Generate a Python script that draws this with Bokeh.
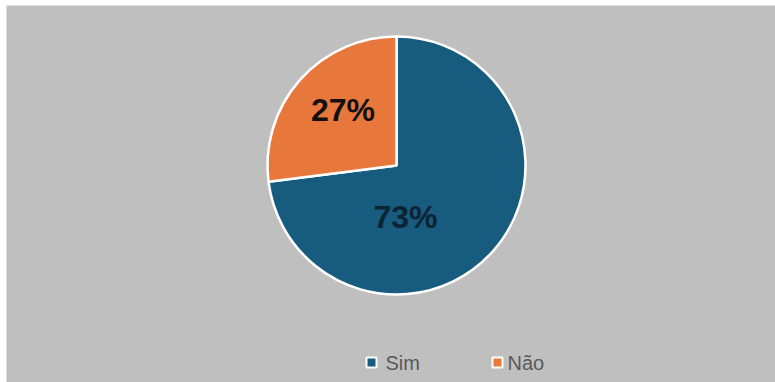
from bokeh.plotting import figure
from bokeh.models import Range1d, ColumnDataSource
from bokeh.core.properties import value
from bokeh.embed import file_html
from bokeh.resources import INLINE
import math

# ---- data ----
categories = ["Sim", "Não"]
shares = [73, 27]
labels = ["73%", "27%"]

# ---- style / layout ----
colors = ["#175b7f", "#e8773b"]
label_colors = ["#0c2333", "#111111"]
W, H = 775, 382
cx, cy, r = 396, 382 - 165, 129
# label placement (polar offsets from centre, in px)
label_dist = [52, 77]
label_ang_deg = [-80, 134]   # math angle (ccw from +x)

total = sum(shares)
starts, ends = [], []
acc = 0.0
for s in shares:
    a0 = math.pi / 2 - acc / total * 2 * math.pi
    acc += s
    a1 = math.pi / 2 - acc / total * 2 * math.pi
    starts.append(a0)
    ends.append(a1)

p = figure(width=W, height=H, output_backend="svg", toolbar_location=None,
           x_range=Range1d(6, W), y_range=Range1d(0, H - 5),
           min_border_left=6, min_border_top=5, min_border_right=0, min_border_bottom=0)
p.axis.visible = False
p.grid.visible = False
p.outline_line_color = None
p.background_fill_color = "#bfbfbf"
p.border_fill_color = "white"

src = ColumnDataSource(dict(cat=categories, start=starts, end=ends, color=colors))
p.wedge(x=cx, y=cy, radius=r, start_angle="start", end_angle="end",
        direction="clock", fill_color="color", line_color="white", line_width=2.5,
        source=src)

lx = [cx + d * math.cos(math.radians(a)) for d, a in zip(label_dist, label_ang_deg)]
ly = [cy + d * math.sin(math.radians(a)) for d, a in zip(label_dist, label_ang_deg)]
p.text(x=lx, y=ly, text=labels, text_color=label_colors,
       text_font=value("Liberation Sans"), text_font_style="bold",
       text_font_size="32px", text_align="center", text_baseline="middle")

# legend (manual)
leg_x = [371, 497]
leg_tx = [385, 507]
leg_y = [382 - 362] * 2
p.rect(x=leg_x, y=leg_y, width=10, height=10, fill_color=colors,
       line_color="white", line_width=2)
p.text(x=leg_tx, y=leg_y, text=categories, text_color="#595959",
       text_font=value("Liberation Sans"), text_font_size="20px",
       text_align="left", text_baseline="middle")

open("out.html", "w").write(file_html(p, INLINE))
